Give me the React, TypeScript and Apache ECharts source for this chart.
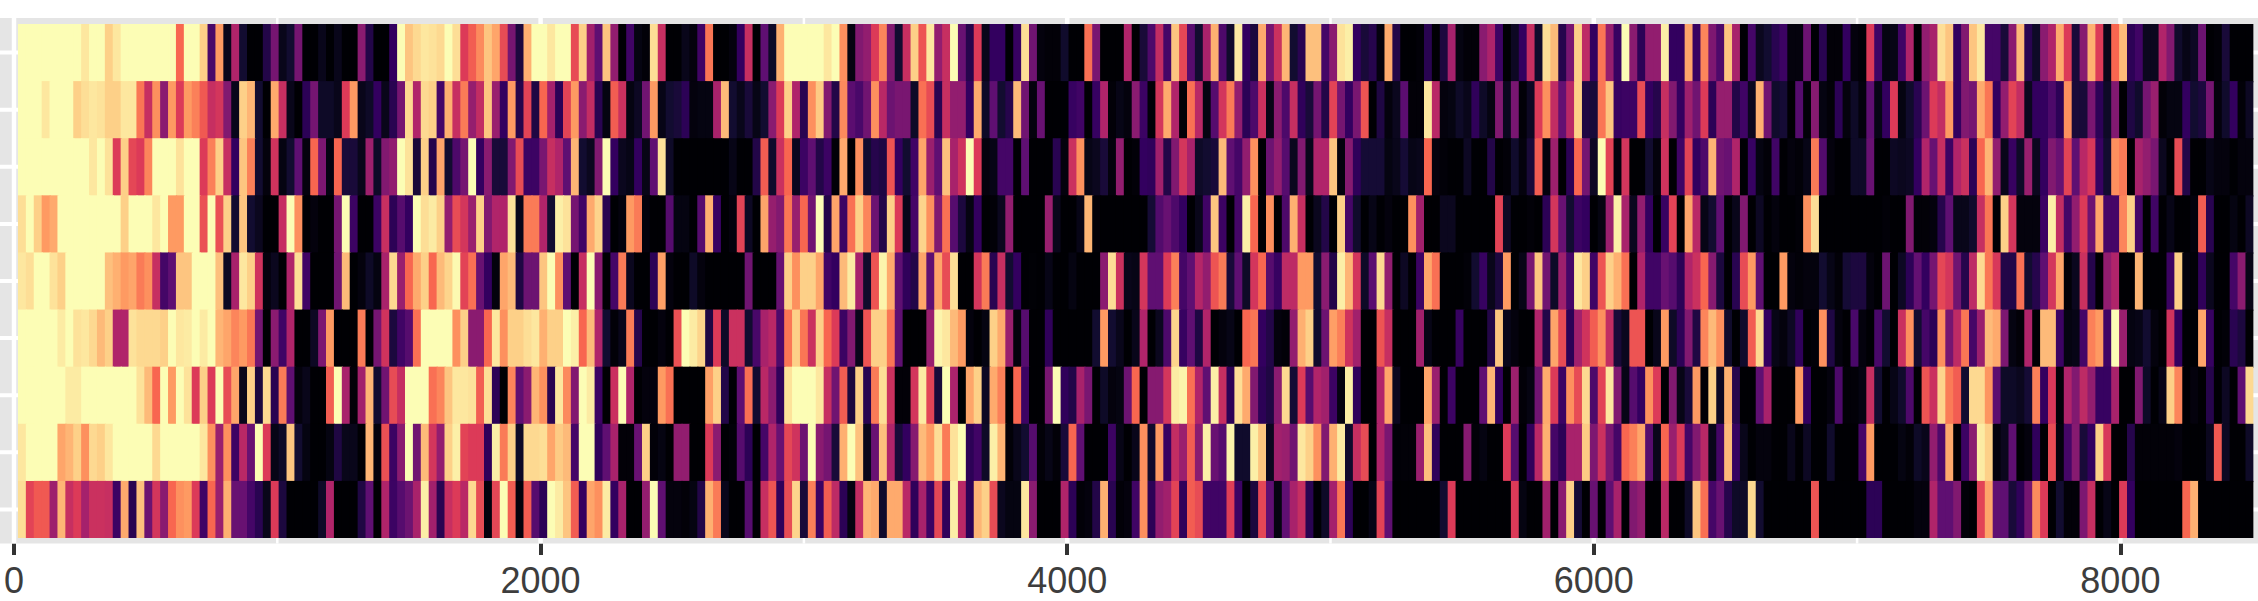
import React, { useEffect, useRef } from "react";
import * as echarts from "echarts";

const xTicks = [0, 2000, 4000, 6000, 8000];
const xMinor = [1000, 3000, 5000, 7000];
const rowLevels = [1, 2, 3, 4, 5, 6, 7, 8, 9];
const binWidth = 30;
const magmaStops = ["#000004", "#120c30", "#33005f", "#5f0f72", "#8a1b70", "#b0246a", "#dc3a58", "#f86650", "#fe9a62", "#fdd088", "#fcfdb5"];

const row1 = [
  10,10,10,10,10,10,10,10,9.5,10,10,9,9.5,10,10,10,10,10,10,10,7,10,10,9,2.5,8,.5,5,1,0,0,1.5,3.5,.5,1,3.5,0,0,.5,0,.5,0,0,4,1.5,0,0,
  2,10,8.8,9.2,9.5,9.4,9.2,10,9.3,6,6.8,7.7,8.8,8.2,6.4,3.5,1.3,8.4,10,10,9.5,10,10,6.4,9,4.6,3,8.8,4.2,0,2.3,.3,.1,9.3,5.5,0,0,.5,.2,2.3,7.3,0,0,.2,2,5.5,0,
  3,.8,8.4,10,10,10,10,10,9.5,10,7.8,.3,3.8,4.2,6,7.6,3.8,1,5.5,9,6.6,9.5,4.2,5.5,10,3.2,1.6,6,.5,2,2,0,2.1,9.3,3.4,.2,.1,.1,.9,0,0,7.2,3.6,0,0,0,5,
  0,1.2,2.6,5.4,2.4,8.8,6.3,2.8,1,4.8,8.4,2.6,.9,9.6,2,1.3,8.3,3.5,5.6,8.5,1,1.7,8.7,8.7,2.4,4,9.4,9.7,2,1.2,1.6,.2,8.3,1.5,0,0,.1,1.7,0,1.3,4.7,.3,.1,.1,4,4.9,2.2,
  0,.7,2,5.5,.9,9.3,8.6,1.6,3.6,9,5.3,2,7.3,4.3,2.1,10,4,1.8,4.2,4.2,9.7,2,2,8.2,2.1,7.6,3.7,2.6,8.8,4.8,0,2.4,.6,1,1.7,2.2,.2,.2,3.3,0,1.7,.1,.1,2,.2,.1,6,
  2.3,.3,.4,2.3,5,0,4.2,4.8,9.3,8.8,2,3.8,8.8,9.5,2.4,2.4,1.2,4,8.6,1.7,.8,4,5,8.3,6,1.2,3.9,8.4,6,.5,7,8.6,1.8,2.3,.6,.6,5,3.8,.9,.4,.7,3.3,0,.1,1.2,0,0,0,
];
const row2 = [
  10,10,10,9.5,10,10,10,9,9.3,9.5,9.4,9,9,9.5,9.5,7.3,5.5,7.8,4,8,6,8,7.5,6.7,5.5,5.8,3.8,.5,9,8.5,1,0,8.3,5.5,.5,0,1.8,3.5,.8,.8,.5,6,8,.5,.8,2,.5,
  1.7,3.5,9.2,5,9.2,9,2.4,8.4,5.5,7.4,4.3,5.4,8.8,4.4,2,8,1.6,6.2,1.4,7,4.7,1.8,6.2,8,4,5.4,1.7,.3,6.8,5.6,.3,.7,3.4,8,.4,1,1.2,1.8,.2,.3,.3,4.8,8.6,1,.5,1.2,.4,
  1,4,6,9,5,1.7,7.8,8.9,3.8,1.5,7.7,2.9,2.5,3.4,7.8,5.2,3.3,3.6,3.6,.8,7.2,6.4,1.7,5.5,4.2,4.2,2,8.3,.8,3,1,1.6,8.6,3.4,.2,3.2,0,0,0,2.1,2.3,0,2.1,5,.1,.4,.2,
  4,2.2,.1,5.8,8.3,5,.1,7.2,5.2,.3,2.8,5.8,7.4,4.2,1.8,2.6,5.6,.4,4,2.6,5.5,1.9,1.2,3.5,1.5,6.2,3.5,2,3.6,6.6,0,1.4,.2,.6,2.9,.1,.1,9.5,5.2,.2,.3,.8,.5,1.9,.8,.3,3.8,
  .6,3.6,.1,.7,6,7.8,5.4,3.1,5.2,9,1.4,1.2,7.3,8.8,2.1,2.2,2.2,6.4,2,1.6,5.5,3.8,2,4.5,3.4,6,1.8,4.3,4.3,1.5,2.3,.6,8.4,3.4,.9,1.1,0,2.8,.1,3.9,.3,.1,1.8,.2,.8,.2,3,
  .4,2,6,.3,.9,1.7,3.3,6,5.4,8,2,3.8,3.5,8.3,7.3,2,4.2,6.2,5.4,.6,2,2,2.6,1.8,7.8,1.2,1.2,3.6,1.8,.8,3.8,0,1.4,.9,3.5,4.4,.1,.3,.3,2,1,1.3,3.5,.2,.9,2,.1,.7,
];
const row3 = [
  10,10,10,10,10,10,10,10,10,9.5,10,9.4,6,9,6.3,6,7.6,10,10,10,9.4,10,10,6,7.5,9,5.5,2,8.8,7.5,1,.2,5.7,.3,1,3,.2,7,3.7,.3,7,1.2,1.2,.5,4.5,.8,3.8,
  4.2,10,9.4,1.2,9,1.6,8.2,1,2.6,3.5,10,2,4,1.2,1.2,3.8,6.4,2.2,2.2,3.6,5.5,5,3,8.5,1,.6,3.8,10,2,.6,.4,2,.4,3,9.4,.8,0,0,0,0,0,0,0,.4,0,0,1.5,
  6.8,.9,5.6,7,.6,2.2,3,1.5,2.2,.1,8.3,0,7.8,1,1.6,1.4,6.6,2,1,2.3,8.2,4.4,3,8.7,4.8,5.7,10,6,.2,.4,2.4,2.4,0,3,0,0,0,1.7,.2,5.6,7.8,.4,.6,1.2,.2,4.2,0,
  .1,2,1.9,4.6,1.5,3.8,5.8,4.8,.8,1,1.2,8.6,3,2.4,4.2,7.8,0,3.3,4.2,2.8,.6,3.8,.5,5,5,8.8,.2,3.9,1.9,1.1,1.1,1.1,.3,.5,1.1,.4,.5,7,.2,.1,0,0,.7,0,0,1.5,0,
  .1,.9,.2,1.2,6.8,.2,4.5,0,1.8,7,3.5,.7,10,6.2,.2,5.8,0,0,1,.2,5.7,0,2.3,6.2,2,2.6,8.5,3.4,3.2,5,0,2.1,.3,.1,2.3,0,.2,.1,.4,7.4,2.7,.2,0,0,.8,.8,3.2,
  0,0,.7,.6,.7,2,5,3.2,5.5,2.2,5,5.6,1.8,7,8.5,4.2,.5,2.1,.8,4.4,.6,2,3.8,3.2,6.2,3,5.2,5.9,2.1,1,7.8,7.4,0,4.8,4.2,3.6,.6,0,6.4,1.5,0,0,.4,.2,.2,0,.2,.2,
];
const row4 = [
  9.3,10,9,8,8.3,10,10,10,10,10,10,10,10,9,10,10,10,9.5,10,8,8,10,10,6.5,10,6.5,9,1,8.8,1,.6,0,0,5.5,10,7.8,0,.2,0,0,3.5,10,2.2,0,0,2.2,5.5,
  1.8,2.8,2,10,9.3,9.6,9,4.2,6.4,5.8,4.4,9,3.8,5,5,9.4,.5,7.4,7.4,5,1,9.7,9.4,3.5,2.3,8.3,9.1,1.7,0,.2,8,7.4,.2,0,0,2.8,.3,.3,0,2.8,8.4,2.1,0,.2,6.2,.7,0,
  8.2,4.3,3.8,7.3,4.4,7,3.4,10,1.5,8.2,2.2,7.2,9,7.6,3.3,1.5,9,6,.5,2.4,9.1,7.8,3.8,7.2,2.8,1.3,.3,2,0,.1,.6,4.2,0,0,0,0,4.4,.5,0,0,.4,8.5,.1,0,0,0,0,
  0,0,1.1,2.7,3.2,2.6,2,0,.5,2.3,8.8,2.2,0,2.4,9.7,7,0,7.8,0,2.6,8.4,5.5,0,.6,1.5,0,9,2.4,.9,0,.4,0,.2,0,0,7.8,4.6,0,0,.6,.6,0,0,0,0,0,6.2,
  .7,0,0,.1,0,1.8,5.8,3.2,1,2.2,2,0,.3,4.4,9.7,4.8,.6,4.2,2,0,2.1,6.2,0,8.2,5.2,.4,1,3,0,.5,3.8,0,.7,0,.2,0,0,.1,7.8,9.3,0,0,0,0,0,0,0,
  0,.1,0,0,3.8,.1,.1,.2,1.6,3,.5,.5,.9,5.5,7.3,0,9,5.8,.2,.2,.2,2.2,9.7,5.4,2.4,4.2,6,3.3,8.2,2.4,2.4,7.6,9,2.4,0,2.3,0,.4,0,0,.2,6.8,1.7,0,0,.3,0,.7,
];
const row5 = [
  9.5,9.3,10,10,9.4,9,10,10,10,10,10,8.7,8.4,8,8.2,7.4,7.8,5.5,2.4,3,8.8,8.8,10,10,10,8.7,.7,4.8,9.5,9,5.7,.2,.6,0,5,9.3,2.3,0,0,0,3.4,8.6,0,.2,.8,.3,4.8,
  9.2,4.4,7,8.3,9,7,8.6,9.1,9.9,6.2,7.2,3.2,2,.2,8.2,8.6,1.4,3.3,3.3,8.8,10,7.8,3,0,5.5,10,4,0,2.4,7.4,.6,0,0,1.8,8.1,.2,0,0,.8,.2,0,0,0,0,0,3.4,0,
  0,0,3.2,9,7.8,9,9,8.2,2.3,2,8.6,9.6,4.8,.9,6.6,9.8,8.3,3,1.9,1.5,8.2,3,8.2,6.4,9.3,0,0,5.8,7.4,1.7,5.5,1,2,0,.05,0,.4,0,0,.3,0,0,0,4,9.3,5.6,.5,
  .4,5.8,3,3,6,7.5,2.4,3,5.1,4.2,6.6,7.4,1.2,3,.8,5.8,7,2.8,2.1,5.3,5.3,8,8,1,4,1.5,9.7,8.5,5.8,.8,2.9,9.2,4.2,0,.7,0,2.2,8.2,7.2,0,0,0,.1,1,2.1,.5,1.3,
  8,0,.4,3.6,8.8,3.4,.8,4.5,2.4,9.5,9,2.3,6.6,9,8.4,7.2,0,5,2.3,2.3,3.2,2.8,1.8,5,5.6,7,3.9,1.3,0,1.7,6.4,8,3,0,0,8,.2,.1,.2,.2,1,.4,.1,1.1,1.3,1.3,.2,
  0,3.3,0,.7,1.8,3.1,2,3.5,6.3,5.8,3.4,1.6,5.3,9.2,7.3,5.9,1.5,1.5,7.2,1,1.6,3,5.8,8.2,.1,.6,5.6,1.6,0,4.2,5,0,0,8.5,0,0,0,2.2,9,.2,.1,1.9,.6,0,0,2.4,4,.4,
];
const row6 = [
  10,10,10,10,10,9.6,10,9.4,9.5,9.2,8.6,9,5,5,9.4,9.2,9.2,9.2,9,10,9.5,9.6,10,9.6,10,8.5,8.2,7.6,8,7.3,3.5,0,4,2.3,5,0,0,.7,3.7,8,0,0,0,7.4,0,3.5,5.7,
  1.3,2.3,2.8,7.2,10,10,10,10,7.8,9,4,4,7,9.5,7.8,9,9,9.3,9.5,8.4,9,9,10,9.7,7,8.6,5,1,.1,.5,7.4,1.6,0,0,.2,0,6.5,10,9.6,9.1,1.4,6,.8,5.6,5.6,1,2.5,
  4.8,5.2,2.6,7.3,9,7.3,5.6,9,7,6,2.2,3.8,.5,6.6,9,9,7.3,3,0,0,0,4.4,9.8,9.5,8.6,8,.2,0,.3,9,8.3,4.4,.2,2.8,0,0,1.9,0,0,0,0,0,1,8,1,.5,0,
  .5,5,0,.6,2.6,9.1,2.1,3,1.4,5,0,.2,.4,0,7,7.3,2,1.5,.2,.1,4.2,8.4,9,.9,3.3,8.1,7.5,5.7,4.6,0,0,6.6,5.5,0,0,0,4.6,.4,0,0,0,2.1,0,0,0,1.5,8.8,
  .5,.2,0,0,5,1.5,8.2,6.4,1.8,4.6,5.7,6.8,7.8,5.4,1.2,.6,6.6,6.6,0,.5,8,.8,1.8,3.8,1.4,7.6,8.6,7.8,.9,0,.9,6.8,9.2,2,.4,.2,.7,1.9,0,.1,7.8,1.4,.2,0,2.5,.2,0,
  2.5,1,0,5.6,7.8,1,2.4,1.8,7.8,3.5,5.3,7.3,2.4,4.4,8.6,8.3,3.7,.3,.1,5,0,8.6,8.6,2.2,.3,.4,2.4,7.5,8,2.3,10,4.4,.3,.4,1,.2,0,5.7,2,0,0,8.2,2.1,0,.1,1.7,1.3,0,
];
const row7 = [
  10,10,10,10,10,10,9.6,9.6,10,10,10,10,10,10,10,9.4,8.6,7,10,8,10,9.4,6,9,6,10,6.4,8.2,.5,9,1.3,9.2,1.7,7.4,3,.2,.5,0,0,6.8,10,4.8,.1,4.6,8.5,1,3.4,
  6.4,5.5,10,10,10,7.2,7.6,8.8,9.5,9.5,9.4,6.8,9.3,1.8,0,7.6,3,4,8.5,7.8,1.7,9.5,7.7,3.8,10,9.6,2.2,0,5.6,10,5,0,.2,.2,8,7.2,0,0,0,0,8.1,9,1.5,0,3,7.2,1,
  5.2,4,1.9,9.4,10,10,10,9.5,5.5,3.4,6.8,1.3,9,1.7,7.4,9.3,5.6,.1,.1,5.8,9.6,6.2,1.2,10,4.9,0,8.2,9,.7,8.3,7.5,0,7,2.2,0,0,3.6,10,1.9,1.5,4.8,3.6,0,.8,.2,.3,3.3,
  7,0,3.9,3.9,5.8,9.6,9.8,7.2,5,3,9.7,5.5,1.8,9.3,8.3,3.8,1.8,1.4,4,9.2,1.1,6,2.8,5,4.6,2.2,.3,9.7,1.9,0,0,5,8.2,.6,0,0,0,8.2,4.4,0,2.2,0,0,0,3,8.5,2,
  0,4.5,.1,.3,3.4,8.3,6,2.2,7.8,6.4,9.2,2.6,6.2,9.5,3.8,.4,2.8,2,7.8,6,0,3.8,.4,1.2,8,0,9,.7,8.4,1.6,0,0,3,4.8,0,0,0,8,2,0,0,.2,2.6,.1,.1,.3,5.5,
  1,0,.4,.9,2.6,0,6.6,5.6,9.1,7.4,6.8,1,9.2,9.2,7.9,2.9,.8,.8,.6,1.1,7.5,2,5.9,.1,5,3.8,5.3,4.2,2.1,2.1,4.8,0,0,3.8,.8,0,.4,9,7.6,0,.2,0,1.6,0,.7,0,3,9.2,
];
const row8 = [
  9.5,10,10,10,10,8.2,8.5,9,7.8,9.2,9,9.5,10,10,10,10,10,9.2,10,10,10,10,10,9.5,7.8,4.4,7.8,2.2,5.2,3.2,10,6,.4,.8,8.8,1,.3,0,0,.3,1.4,.5,.5,0,8.5,.2,6.5,
  2.2,4,10,3.4,8.6,5.8,4.2,9,9.7,6.2,6,6,1.9,9.7,7.4,9,.8,9.2,9.2,9.3,8.2,8.9,8.6,2.4,10,10,1.9,3,4.8,.1,.1,3.2,9,.1,.3,0,4.2,4.2,0,0,6,4,0,.1,2.8,1.8,0,
  2.4,5,3.2,6.3,5.7,3.3,10,4,3.5,1.2,8.4,10,8.7,.5,3.2,8.7,5,1.2,2,3.9,8.6,8,9.3,7.4,9.4,10,1.8,2.3,.8,9.7,8.5,.1,.5,1,2.8,.1,.4,.1,1.2,7,3,0,0,0,2.2,.4,0,
  .5,7.8,.9,8,2.1,5.4,4.4,6.8,4,9.7,3.2,2.8,9.8,.9,.9,9.7,8.8,.6,4.6,4.4,3.4,9.5,9,7.8,3.8,8.4,9.6,.9,5.5,6.4,0,5,3.6,.1,.1,.1,4.4,8.7,1.9,0,0,0,3.9,.1,.3,0,0,
  6,2.8,0,1.9,5.2,8.4,2.4,1.8,4.8,4.8,8.9,3.7,5.6,3.6,2.4,7,7.5,8.2,2.8,.5,7,4.4,6,2.4,3.8,5.2,.5,2.4,8.6,2.1,.5,0,.2,.2,0,0,.5,0,.7,0,0,.9,0,0,0,2.4,8,
  0,0,0,.3,.1,.8,.5,4.2,2.6,8.3,0,2.2,4,9.6,9,.2,.6,3,0,.2,1.9,0,6.4,.2,2.4,3.9,1.2,2,9,5.9,0,0,1.6,.1,.1,.1,.1,.1,.2,0,0,0,.6,6.7,.7,0,0,.8,
];
const row9 = [
  9.3,6.2,6.7,6.7,4.5,8.5,5.5,6,4.7,5.6,5.6,5.5,2.2,8.3,1.7,8.7,3.3,5.8,4,7,7.8,8,6,2.3,7,4.4,8.4,3.2,3.2,2.4,1.7,.5,6,1.3,0,0,0,0,.8,5,0,0,0,1.4,3,0,5,
  2.2,2.8,3.3,4.8,9.7,4.6,1.7,5.5,6,5.2,9.2,6.4,.2,6.3,10,6.8,.2,6.8,2.8,1.8,10,9.6,8.8,6.8,2,8.2,7.8,9.6,2,4.8,0,0,4.2,10,3,.2,.2,.1,.3,1.5,8.4,7.4,.5,0,0,2.8,0,
  5.5,6.6,1.9,6.4,9.1,1.2,7.5,2.2,6.8,5.3,1.8,.3,5.4,8.5,8.3,.9,8.3,8.3,5.2,1.9,4.8,2.2,6.3,1.9,9.7,5.2,1.8,8.5,9,6.4,.6,.3,.3,9.5,4,0,0,0,5,1.8,.1,.2,1.5,8.4,1.7,.1,.2,
  2.3,7.8,1.8,4.2,4.6,6.2,1.9,6.8,6.4,2.3,2.3,2.3,6.1,2.2,0,1.3,6.3,3,.3,3,4.8,5.5,1.7,0,.8,4.7,7.3,1.8,0,0,.4,6.2,3,0,0,0,0,0,0,1,6,0,0,0,0,0,0,
  0,6,.3,0,0,4.6,0,4,9,1.1,0,3.2,0,3,4.8,0,3.8,4.2,0,0,5.2,0,0,.8,8.8,7.2,2.4,3.2,1.6,.8,.8,9.2,1,0,0,0,0,0,0,6.6,0,0,0,0,0,0,1.8,
  1.8,0,0,0,0,.2,.2,5,3,3,3.8,.1,0,6.2,8.2,3,3,1.2,1.9,3.5,7.7,6,0,1,.1,.1,3.7,5.5,0,.4,0,6,2,0,0,0,0,0,0,7,8.4,0,0,0,0,0,0,0,
];

const rows = [row1, row2, row3, row4, row5, row6, row7, row8, row9];
const lastBin = binWidth * row1.length;
const cells = rows.flatMap((r, ri) => r.map((v, ci) => [binWidth * (ci + 1), rows.length - ri, v]));

const vLine = (w: number) => (_: any, api: any) => {
  const top = api.coord([api.value(0), 9.605]);
  const bottom = api.coord([api.value(0), 0.404]);
  return { type: "rect", shape: { x: top[0] - w / 2, y: top[1], width: w, height: bottom[1] - top[1] }, style: { fill: "#ffffff" } };
};
const hLine = (_: any, api: any) => {
  const left = api.coord([-53.2, api.value(0)]);
  const right = api.coord([8522.6, api.value(0)]);
  return { type: "rect", shape: { x: left[0], y: left[1] - 2, width: right[0] - left[0], height: 4 }, style: { fill: "#ffffff" } };
};
const tile = (_: any, api: any) => {
  const x = api.value(0);
  const y = api.value(1);
  const a = api.coord([x - binWidth / 2, y + 0.5]);
  const b = api.coord([x + binWidth / 2, y - 0.5]);
  return {
    type: "rect",
    shape: {
      x: a[0],
      y: a[1],
      width: b[0] - a[0] + (x < lastBin ? 1.2 : 0),
      height: b[1] - a[1] + (y > 1 ? 1.2 : 0),
    },
    style: { fill: api.visual("color") },
  };
};

export default function App() {
  const ref = useRef<HTMLDivElement>(null);
  useEffect(() => {
    const chart = echarts.init(ref.current!, null, { renderer: "svg" });
    chart.setOption({
      animation: false,
      grid: { show: true, left: 0, top: 18, width: 2258, height: 525.5, backgroundColor: "#e5e5e5", borderWidth: 0 },
      visualMap: { show: false, type: "continuous", min: 0, max: 10, dimension: 2, seriesIndex: 3, inRange: { color: magmaStops } },
      xAxis: {
        type: "value",
        min: -53.2,
        max: 8522.6,
        axisLine: { show: false },
        splitLine: { show: false },
        axisTick: { show: true, length: 11.5, lineStyle: { color: "#333333", width: 4 }, customValues: xTicks },
        axisLabel: {
          show: true,
          customValues: xTicks,
          formatter: (v: number) => String(v),
          fontFamily: "Liberation Sans",
          fontSize: 36,
          color: "#3d3d3d",
          margin: 19,
        },
      },
      yAxis: { type: "value", min: 0.404, max: 9.605, show: false },
      series: [
        { type: "custom", silent: true, renderItem: vLine(2.5), data: xMinor.map((v) => [v]), encode: { x: 0 } },
        { type: "custom", silent: true, renderItem: vLine(4.5), data: xTicks.map((v) => [v]), encode: { x: 0 } },
        { type: "custom", silent: true, renderItem: hLine, data: rowLevels.map((v) => [v]), encode: { y: 0 } },
        { type: "custom", silent: true, renderItem: tile, data: cells, encode: { x: 0, y: 1 } },
      ],
    });
    return () => chart.dispose();
  }, []);
  return <div ref={ref} style={{ position: "absolute", left: 0, top: 0, width: 2258, height: 601 }} />;
}
